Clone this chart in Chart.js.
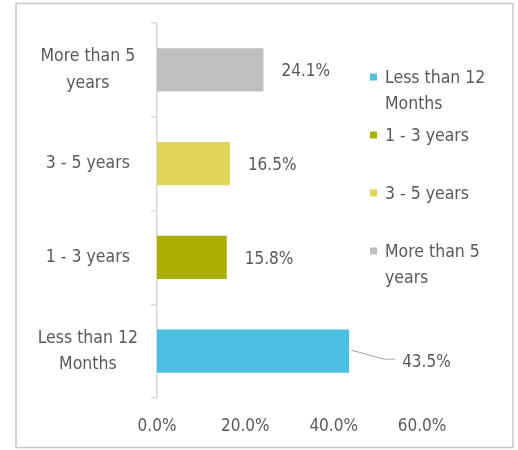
<!DOCTYPE html>
<html><head><meta charset="utf-8">
<script src="https://cdn.jsdelivr.net/npm/chart.js@4"></script>
<style>html,body{margin:0;padding:0;background:#fff;}</style>
</head><body>
<canvas id="c" width="518" height="450"></canvas>
<script>
// ---- data ----
const categories = ["Less than 12 Months", "1 - 3 years", "3 - 5 years", "More than 5 years"];
const categoryLines = [["Less than 12", "Months"], ["1 - 3 years"], ["3 - 5 years"], ["More than 5", "years"]];
const shares = [43.5, 15.8, 16.5, 24.1];
const barColors = ["#4BC0E0", "#A9AE00", "#E1D45A", "#BFBFBF"];
const xTickValues = [0, 20, 40, 60];

const FONT = "'DejaVu Sans Condensed', 'DejaVu Sans', sans-serif";
const TEXT = "#595959";
Chart.defaults.font.family = FONT;
Chart.defaults.color = TEXT;

const frame = {
  id: 'frame',
  beforeDraw(chart) {
    const ctx = chart.ctx;
    ctx.save();
    ctx.fillStyle = '#fff';
    ctx.fillRect(0, 0, chart.width, chart.height);
    ctx.strokeStyle = '#c8c8c8';
    ctx.lineWidth = 1.5;
    ctx.strokeRect(16, 3.5, 497, 444);
    ctx.restore();
  }
};

const valueLabels = {
  id: 'valueLabels',
  afterDatasetsDraw(chart, args, opts) {
    const ctx = chart.ctx;
    const meta = chart.getDatasetMeta(0);
    ctx.save();
    ctx.font = opts.size + 'px ' + FONT;
    ctx.fillStyle = TEXT;
    ctx.textBaseline = 'middle';
    ctx.textAlign = 'left';
    meta.data.forEach((bar, i) => {
      const text = shares[i].toFixed(1) + '%';
      let x = bar.x + opts.gap, y = bar.y + 2;
      const L = opts.leader;
      if (L && L.index === i) {
        ctx.strokeStyle = '#a6a6a6';
        ctx.lineWidth = 1;
        ctx.beginPath();
        ctx.moveTo(bar.x + 2, bar.y - 1);
        ctx.lineTo(bar.x + 35, bar.y + 8);
        ctx.lineTo(bar.x + 46, bar.y + 8);
        ctx.stroke();
        x = bar.x + L.dx; y = bar.y + L.dy;
      }
      ctx.fillText(text, x, y);
    });
    ctx.restore();
  }
};

const sideLegend = {
  id: 'sideLegend',
  afterDraw(chart, args, opts) {
    const ctx = chart.ctx;
    ctx.save();
    ctx.font = opts.size + 'px ' + FONT;
    ctx.fillStyle = TEXT;
    ctx.textBaseline = 'middle';
    ctx.textAlign = 'left';
    categoryLines.forEach((lines, i) => {
      const y = opts.y + i * opts.spacing;
      ctx.fillStyle = barColors[i];
      ctx.fillRect(opts.x, y - opts.box / 2, opts.box, opts.box);
      ctx.fillStyle = TEXT;
      lines.forEach((ln, j) => ctx.fillText(ln, opts.x + opts.box + opts.gap, y + 1 + j * opts.lineHeight));
    });
    ctx.restore();
  }
};

new Chart(document.getElementById('c'), {
  type: 'bar',
  data: {
    labels: categories,
    datasets: [{
      data: shares,
      backgroundColor: barColors,
      barPercentage: 0.46,
      categoryPercentage: 1.0
    }]
  },
  options: {
    indexAxis: 'y',
    responsive: false,
    animation: false,
    devicePixelRatio: 1,
    layout: { padding: { top: 23, right: 96, left: 0, bottom: 0 } },
    plugins: {
      legend: { display: false },
      tooltip: { enabled: false },
      valueLabels: { size: 17, gap: 18, leader: { index: 0, dx: 53, dy: 11 } },
      sideLegend: { x: 370, y: 77, spacing: 58, box: 7, gap: 8, lineHeight: 26, size: 17.5 }
    },
    scales: {
      x: {
        type: 'linear', min: 0, max: 60,
        afterBuildTicks: s => { s.ticks = xTickValues.map(v => ({ value: v })); },
        ticks: { callback: v => v.toFixed(1) + '%', font: { size: 17 }, color: TEXT, padding: 18 },
        grid: { display: false, drawTicks: false },
        border: { display: false },
        afterFit: s => { s.height = 52; s.paddingLeft = 0; s.paddingRight = 0; }
      },
      y: {
        type: 'category', reverse: true,
        ticks: {
          callback: (v) => categoryLines[v],
          font: { size: 17.5, lineHeight: 1.5 }, color: TEXT,
          crossAlign: 'center', padding: 13
        },
        grid: { drawOnChartArea: false, drawTicks: true, tickLength: 6, color: '#d9d9d9', lineWidth: 1.5, offset: true },
        border: { display: true, color: '#d9d9d9', width: 1.5 },
        afterFit: s => { s.width = 157; s.paddingTop = 0; s.paddingBottom = 0; }
      }
    }
  },
  plugins: [frame, valueLabels, sideLegend]
});
</script>
</body></html>
